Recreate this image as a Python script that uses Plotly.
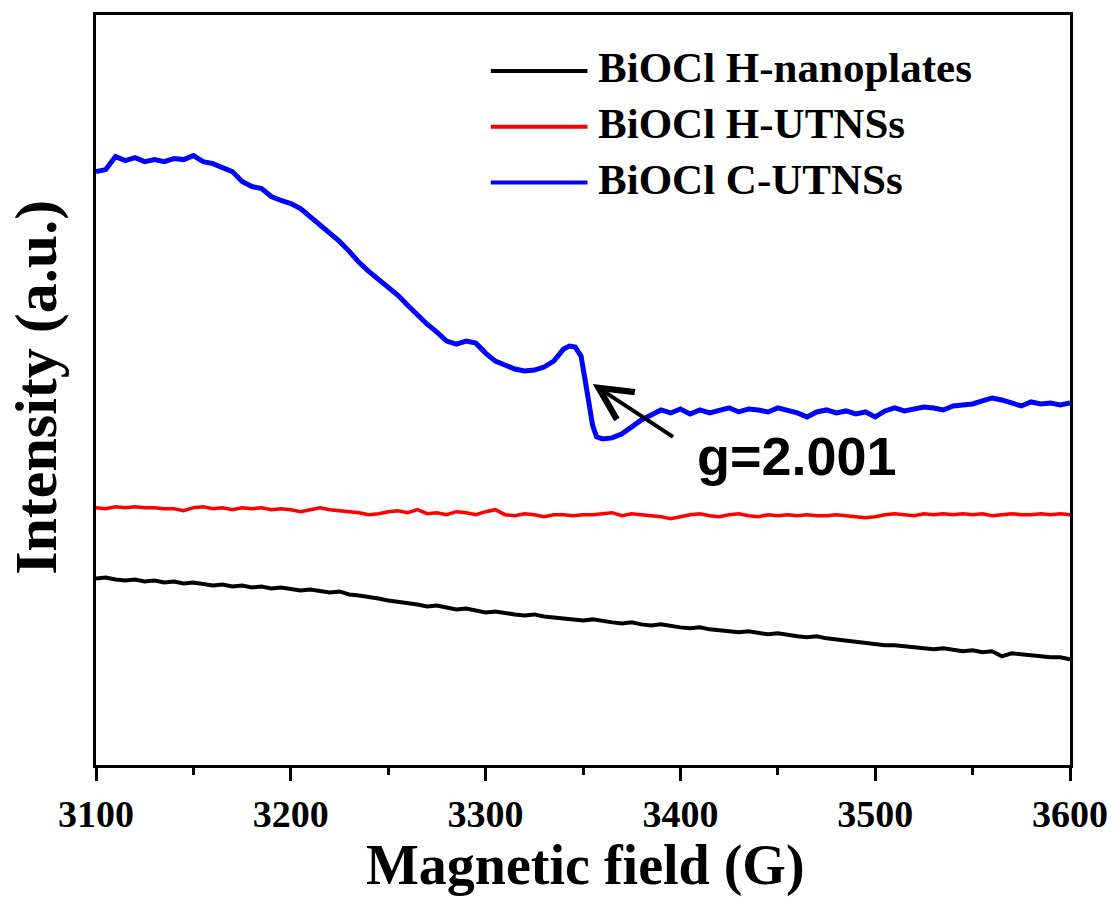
import plotly.graph_objects as go

# ---------------- data ----------------
FIELD_5G = list(range(3100, 3605, 5))  # magnetic field grid (G)

NAMES = ["BiOCl H-nanoplates", "BiOCl H-UTNSs", "BiOCl C-UTNSs"]
COLORS = ["#000000", "#ff0000", "#0000ff"]

H_NANOPLATES = [
    187, 188, 186, 185, 186, 184, 185, 183, 184, 182, 183, 181, 180, 181, 179, 180, 178, 179, 177, 178,
    176, 175, 176, 174, 173, 174, 171, 170, 169, 167, 165, 164, 162, 161, 159, 160, 158, 156, 157, 155,
    153, 154, 152, 151, 150, 151, 149, 148, 147, 146, 145, 146, 144, 143, 142, 143, 141, 140, 141, 139,
    138, 137, 138, 136, 135, 134, 133, 134, 132, 131, 132, 130, 129, 128, 129, 127, 126, 124, 123, 122,
    121, 120, 120, 119, 118, 117, 116, 117, 115, 114, 115, 113, 114, 109, 112, 111, 110, 109, 108, 108,
    106,
]

H_UTNSS = [
    258, 257, 259, 258, 259, 258, 258, 257, 257, 255, 258, 259, 257, 258, 256, 258, 257, 258, 256, 257,
    256, 254, 256, 258, 256, 255, 254, 253, 251, 252, 254, 255, 253, 256, 252, 253, 251, 254, 253, 251,
    254, 256, 251, 250, 252, 251, 249, 251, 251, 250, 251, 251, 252, 253, 250, 252, 251, 250, 249, 247,
    249, 251, 252, 250, 249, 251, 252, 250, 249, 251, 250, 251, 250, 251, 250, 250, 251, 250, 249, 248,
    249, 251, 252, 251, 250, 252, 251, 252, 251, 252, 251, 252, 250, 251, 252, 251, 251, 252, 251, 252,
    251,
]

C_UTNSS_FIELD = [
    3100, 3105, 3110, 3115, 3120, 3125, 3130, 3135, 3140, 3145, 3150, 3155, 3160, 3165, 3170, 3175,
    3180, 3185, 3190, 3195, 3200, 3205, 3210, 3215, 3220, 3225, 3230, 3235, 3240, 3245, 3250, 3255,
    3260, 3265, 3270, 3275, 3280, 3285, 3290, 3295, 3300, 3305, 3310, 3315, 3320, 3325, 3330, 3335,
    3340, 3343, 3346, 3349, 3351, 3353, 3355, 3357, 3360, 3365, 3370, 3375, 3380, 3385, 3390, 3395,
    3400, 3405, 3410, 3415, 3420, 3425, 3430, 3435, 3440, 3445, 3450, 3455, 3460, 3465, 3470, 3475,
    3480, 3485, 3490, 3495, 3500, 3505, 3510, 3515, 3520, 3525, 3530, 3535, 3540, 3545, 3550, 3555,
    3560, 3565, 3570, 3575, 3580, 3585, 3590, 3595, 3600,
]
C_UTNSS = [
    595, 597, 610, 606, 609, 605, 607, 605, 608, 607, 611, 605, 603, 599, 595, 585,
    580, 578, 570, 566, 563, 558, 550, 541, 533, 525, 515, 504, 495, 487, 480, 471,
    461, 451, 442, 434, 425, 422, 425, 423, 413, 405, 401, 397, 395, 396, 399, 405,
    417, 420, 419, 410, 387, 365, 340, 329, 327, 328, 332, 339, 346, 351, 356, 353,
    357, 352, 356, 353, 355, 358, 354, 357, 356, 354, 358, 356, 353, 349, 354, 356,
    353, 355, 352, 354, 349, 355, 358, 355, 357, 359, 358, 356, 360, 361, 362, 365,
    368, 366, 363, 360, 364, 362, 363, 361, 363,
]

X_TICKS = [3100, 3200, 3300, 3400, 3500, 3600]
X_TITLE = "Magnetic field (G)"
Y_TITLE = "Intensity (a.u.)"
G_LABEL = "g=2.001"
G_ARROW_HEAD = (3355, 382)
G_ARROW_TAIL = (3397, 328)
G_LABEL_POS = (3460, 310)

SERIF = "Liberation Serif, Times New Roman, serif"
SANS = "Liberation Sans, Arial, sans-serif"

# ---------------- figure ----------------
fig = go.Figure()
series = [
    (FIELD_5G, H_NANOPLATES, 4),
    (FIELD_5G, H_UTNSS, 3.5),
    (C_UTNSS_FIELD, C_UTNSS, 5),
]
for (xs, ys, w), name, color in zip(series, NAMES, COLORS):
    fig.add_trace(go.Scatter(x=xs, y=ys, mode="lines", name=name,
                             line=dict(color=color, width=w), showlegend=False))

# manual legend (long line samples as in the reference)
legend_y = [0.9295, 0.855, 0.7806]
for name, color, ly in zip(NAMES, COLORS, legend_y):
    fig.add_shape(type="line", xref="paper", yref="paper", x0=0.4053, x1=0.5046,
                  y0=ly - 0.004, y1=ly - 0.004, line=dict(color=color, width=4))
    fig.add_annotation(xref="paper", yref="paper", x=0.5138, y=ly, text=name, showarrow=False,
                       xanchor="left", yanchor="middle",
                       font=dict(family=SERIF, size=43, color="black", weight="bold"))

# g-factor arrow and label
fig.add_annotation(x=G_ARROW_HEAD[0], y=G_ARROW_HEAD[1], ax=G_ARROW_TAIL[0], ay=G_ARROW_TAIL[1],
                   xref="x", yref="y", axref="x", ayref="y", text="", showarrow=True,
                   arrowhead=5, arrowsize=1.6, arrowwidth=4, arrowcolor="black")
fig.add_annotation(x=G_LABEL_POS[0], y=G_LABEL_POS[1], xref="x", yref="y", text=G_LABEL,
                   showarrow=False, xanchor="center", yanchor="middle",
                   font=dict(family=SANS, size=54, color="black", weight="bold"))

# axis titles
fig.add_annotation(xref="paper", yref="paper", x=0.5026, y=-0.134, text=X_TITLE, showarrow=False,
                   xanchor="center", yanchor="middle",
                   font=dict(family=SERIF, size=56, color="black", weight="bold"))
fig.add_annotation(xref="paper", yref="paper", x=-0.0615, y=0.503, text=Y_TITLE, showarrow=False,
                   textangle=-90, xanchor="center", yanchor="middle",
                   font=dict(family=SERIF, size=60, color="black", weight="bold"))

fig.update_xaxes(range=[3100, 3600], tickmode="array", tickvals=X_TICKS,
                 ticks="outside", ticklen=13, tickwidth=3, tickcolor="black",
                 minor=dict(dtick=50, tick0=3100, ticks="outside", ticklen=7, tickwidth=3,
                            tickcolor="black", showgrid=False),
                 showline=True, linewidth=3, linecolor="black", mirror=True,
                 showgrid=False, zeroline=False,
                 tickfont=dict(family=SERIF, size=38, color="black", weight="bold"))
fig.update_yaxes(range=[0, 752], showticklabels=False, ticks="",
                 showline=True, linewidth=3, linecolor="black", mirror=True,
                 showgrid=False, zeroline=False)

fig.update_layout(width=1120, height=920, margin=dict(l=96, r=47, t=13, b=155),
                  plot_bgcolor="white", paper_bgcolor="white")

fig.write_html("out.html")
